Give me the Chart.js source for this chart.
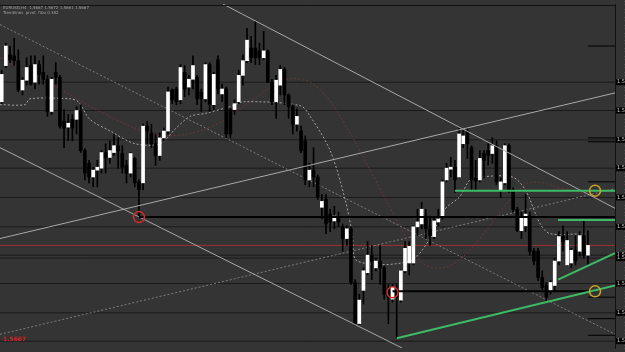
<!DOCTYPE html>
<html>
<head>
<meta charset="utf-8">
<script src="https://cdn.jsdelivr.net/npm/chart.js@4.4.1/dist/chart.umd.min.js"></script>
<style>
  html, body { margin: 0; padding: 0; background: #343434; overflow: hidden; }
</style>
</head>
<body>
<canvas id="chart" width="625" height="352"></canvas>
<script>
// prices in points (1 pt = 0.0001), one candle per bar index
const candleOpen = [15814,15851,15862,15861,15856,15826,15836,15851,15834,15852,15844,15837,15804,15844,15839,15794,15788,15796,15796,15804,
  15764,15751,15737,15744,15746,15762,15757,15762,15769,15761,15749,15741,15756,15732,15731,15789,15782,15771,15759,15777,
  15784,15826,15827,15816,15844,15829,15837,15839,15824,15817,15852,15811,15857,15822,15827,15806,15806,15814,15841,15856,
  15869,15869,15866,15859,15866,15834,15814,15831,15847,15821,15809,15791,15784,15774,15734,15744,15737,15706,15714,15699,
  15692,15696,15686,15674,15684,15629,15587,15621,15639,15657,15644,15651,15644,15622,15612,15619,15611,15641,15649,15649,
  15686,15689,15697,15684,15676,15691,15696,15734,15745,15747,15737,15771,15784,15767,15736,15734,15761,15764,15761,15769,
  15724,15731,15769,15724,15704,15682,15687,15697,15661,15661,15634,15626,15621,15626,15651,15676,15647,15649,15662,15661,
  15677,15657];
const candleHigh = [15846,15874,15871,15879,15867,15839,15859,15861,15861,15856,15861,15841,15839,15854,15841,15806,15801,15801,15809,15811,
  15766,15754,15747,15754,15764,15771,15774,15781,15777,15769,15754,15762,15757,15734,15791,15794,15791,15781,15782,15787,
  15829,15827,15829,15852,15851,15841,15861,15841,15827,15854,15854,15844,15861,15832,15829,15807,15816,15846,15862,15889,
  15881,15896,15874,15886,15867,15837,15841,15851,15849,15822,15811,15807,15789,15779,15751,15767,15739,15719,15719,15704,
  15707,15701,15689,15687,15686,15632,15617,15644,15671,15667,15654,15667,15646,15627,15627,15627,15642,15671,15671,15687,
  15704,15711,15704,15697,15696,15704,15734,15751,15757,15754,15787,15786,15787,15769,15754,15764,15764,15771,15777,15774,
  15736,15771,15771,15726,15706,15701,15719,15701,15664,15664,15641,15629,15631,15654,15681,15687,15681,15664,15677,15681,
  15692,15682];
const candleLow = [15812,15849,15854,15851,15824,15821,15831,15831,15827,15832,15832,15799,15801,15832,15787,15767,15774,15774,15781,15762,
  15734,15731,15727,15727,15741,15741,15751,15759,15746,15741,15731,15737,15727,15696,15724,15771,15767,15749,15754,15774,
  15781,15812,15811,15812,15819,15821,15827,15811,15804,15814,15804,15806,15822,15814,15777,15777,15801,15812,15831,15854,
  15854,15852,15852,15857,15834,15811,15797,15821,15811,15797,15781,15784,15762,15729,15727,15727,15714,15694,15679,15681,
  15684,15686,15661,15667,15627,15586,15586,15607,15637,15632,15641,15627,15612,15587,15609,15572,15609,15639,15637,15647,
  15677,15684,15674,15667,15674,15687,15694,15732,15737,15721,15736,15767,15756,15724,15724,15732,15736,15749,15751,15729,
  15716,15729,15721,15701,15681,15674,15681,15657,15647,15631,15622,15609,15617,15621,15647,15661,15646,15644,15647,15656,
  15654,15647];
const candleClose = [15842,15871,15857,15856,15826,15836,15849,15832,15852,15842,15837,15804,15837,15839,15789,15787,15792,15787,15805,15764,
  15741,15737,15744,15747,15762,15757,15764,15769,15764,15747,15741,15761,15731,15724,15789,15784,15771,15759,15777,15784,
  15824,15816,15814,15849,15827,15837,15851,15817,15817,15852,15811,15842,15827,15827,15781,15781,15812,15841,15856,15877,
  15859,15859,15859,15866,15834,15814,15836,15847,15821,15809,15791,15799,15764,15734,15744,15737,15717,15712,15689,15691,
  15697,15691,15674,15684,15629,15587,15611,15641,15657,15651,15651,15644,15617,15614,15624,15614,15641,15664,15666,15686,
  15691,15704,15684,15677,15692,15694,15732,15746,15747,15734,15781,15779,15771,15734,15733,15756,15754,15759,15769,15732,
  15732,15769,15724,15704,15682,15696,15699,15661,15651,15634,15624,15614,15629,15651,15676,15671,15672,15662,15651,15677,
  15657,15667];

// horizontal levels (points)
const darkLevels = [15834,15805,15775,15746,15716,15686,15657,15654,15628,15598,15569];
const redLevel = 15667;
const fibMarks = [15871,15777,15773,15732,15614,15592,15575];

// drawn objects: [x1, y1, x2, y2] in bar index / points
const grayTrends = [
  [-0.41, 15767, 96.3, 15562],
  [-0.41, 15674, 147.5, 15823],
  [53.2, 15914, 147.5, 15705]
];
const dottedTrends = [
  [-0.41, 15893, 147.5, 15576],
  [-0.41, 15576, 147.5, 15725]
];
const blackLines = [
  [33, 15696, 147.5, 15696],
  [94, 15620, 142.7, 15620]
];
const greenLines = [
  [109, 15723, 147.5, 15723],
  [133.8, 15693, 147.5, 15693],
  [95, 15572, 147.5, 15626],
  [133.8, 15632, 147.5, 15659]
];
const redMarks = [[33, 15696], [94, 15619]];
const yellowMarks = [[142.7, 15723], [142.7, 15620]];

// indicator curves
const grayMaX = [-0.4,5.6,6.8,16.4,18.4,21.2,26.1,32.1,38.1,41.7,45.3,48.9,54.9,58.5,71.8,74.2,79,82.6,84.3,85.5,98.2,103,106.6,110.2,112.6,115.1,122.8,125.9,129.5,131.9,140.3];
const grayMaY = [15811,15811,15817,15817,15814,15796,15784,15771,15771,15786,15799,15802,15809,15814,15810,15799,15764,15714,15679,15651,15651,15674,15704,15717,15734,15737,15737,15724,15689,15679,15679];
const redMaX = [-0.4,14,23.6,34,40.5,50.8,59.7,66.9,71.8,76.6,82.1,88.6,95.8,100.6,104.2,109,115,122.3,127.1,134.3,143.9];
const redMaY = [15859,15827,15804,15784,15779,15789,15814,15834,15837,15826,15794,15744,15687,15652,15644,15649,15674,15714,15731,15726,15716];

const xMin = -0.41, xMax = 147.5;
const yMin = 15562, yMax = 15914;

const idx = candleOpen.map((_, i) => i);
const bodyColors = idx.map(i => candleClose[i] >= candleOpen[i] ? "#ffffff" : "#000000");

function seg(s, color, width, dash, order) {
  return {
    type: "line",
    data: [{ x: s[0], y: s[1] }, { x: s[2], y: s[3] }],
    borderColor: color,
    borderWidth: width,
    borderDash: dash || [],
    pointRadius: 0,
    order: order
  };
}
function flat(v, x1, x2, color, width, order) {
  return seg([x1, v, x2, v], color, width, null, order);
}
function marks(list, color) {
  return {
    type: "line",
    data: list.map(p => ({ x: p[0], y: p[1] })),
    showLine: false,
    pointStyle: "circle",
    pointRadius: 5.5,
    pointBorderWidth: 1.5,
    pointBorderColor: color,
    pointBackgroundColor: "rgba(0,0,0,0)",
    order: 0
  };
}

let datasets = [];
darkLevels.forEach(v => datasets.push(flat(v, xMin, xMax, "#1b1b1b", 1, 20)));
datasets.push(flat(redLevel, xMin, xMax, "#9e3030", 1, 19));
fibMarks.forEach(v => datasets.push(flat(v, 141, xMax, "#000000", 1, 19)));
dottedTrends.forEach(s => datasets.push(seg(s, "#7c7c7c", 1, [2, 2], 18)));

datasets.push({
  type: "line",
  data: grayMaX.map((x, i) => ({ x, y: grayMaY[i] })),
  borderColor: "#a4a4a4", borderWidth: 1, borderDash: [2, 2],
  pointRadius: 0, tension: 0.3, order: 17
});
datasets.push({
  type: "line",
  data: redMaX.map((x, i) => ({ x, y: redMaY[i] })),
  borderColor: "#6a3636", borderWidth: 1, borderDash: [2, 2],
  pointRadius: 0, tension: 0.4, order: 17
});

// wicks
datasets.push({
  type: "bar",
  data: idx.map(i => ({ x: i, y: [candleLow[i], candleHigh[i]] })),
  backgroundColor: "#000000",
  barThickness: 1,
  grouped: false,
  order: 6
});
// bodies
datasets.push({
  type: "bar",
  data: idx.map(i => ({ x: i, y: [candleOpen[i], candleClose[i]] })),
  backgroundColor: bodyColors,
  barThickness: 3,
  minBarLength: 1,
  grouped: false,
  order: 5
});

grayTrends.forEach(s => datasets.push(seg(s, "#a8a8a8", 1, null, 3)));
blackLines.forEach(s => datasets.push(seg(s, "#000000", 2, null, 2)));
greenLines.forEach(s => datasets.push(seg(s, "#3dba66", 2, null, 1)));
datasets.push(marks(redMarks, "#d42a2a"));
datasets.push(marks(yellowMarks, "#c9a326"));

const decor = {
  id: "decor",
  beforeDraw(chart) {
    const c = chart.ctx;
    c.save();
    c.fillStyle = "#343434";
    c.fillRect(0, 0, chart.width, chart.height);
    c.restore();
  },
  afterDraw(chart) {
    const c = chart.ctx;
    const a = chart.chartArea;
    const ys = chart.scales.y;
    c.save();
    // frame
    c.strokeStyle = "#111111";
    c.lineWidth = 1;
    c.beginPath();
    c.moveTo(a.left, a.top + 1.5);
    c.lineTo(a.right, a.top + 1.5);
    c.moveTo(a.right + 0.5, a.top);
    c.lineTo(a.right + 0.5, a.bottom);
    c.stroke();
    // level tags on the price axis
    c.font = "5px 'DejaVu Sans'";
    c.textBaseline = "middle";
    darkLevels.forEach(v => {
      const y = ys.getPixelForValue(v);
      c.fillStyle = "#000000";
      c.fillRect(a.right + 1, y - 3, 12, 6);
      c.fillStyle = "#d0d0d0";
      c.fillText((v / 10000).toFixed(4), a.right + 2, y);
    });
    // symbol header
    c.fillStyle = "#a0a0a0";
    c.font = "4px 'DejaVu Sans'";
    c.fillText("EURUSD,H4  1.5667 1.5672 1.5661 1.5667", a.left + 3, a.top + 4);
    c.fillText("Trendlines  pivot  fibo 0.382", a.left + 3, a.top + 9);
    // bottom label
    c.fillStyle = "#e02020";
    c.font = "bold 6px 'DejaVu Sans'";
    c.fillText((redLevel / 10000).toFixed(4), a.left + 3, a.bottom - 9);
    c.restore();
  }
};

new Chart(document.getElementById("chart"), {
  type: "bar",
  data: { datasets },
  options: {
    responsive: false,
    devicePixelRatio: 1,
    animation: false,
    layout: { padding: 0, autoPadding: false },
    plugins: { legend: { display: false }, tooltip: { enabled: false } },
    scales: {
      x: { type: "linear", min: xMin, max: xMax, offset: false, display: false },
      y: {
        position: "right",
        min: yMin,
        max: yMax,
        grid: { display: false },
        border: { color: "#1b1b1b" },
        ticks: {
          stepSize: 8,
          autoSkip: false,
          includeBounds: false,
          padding: 1,
          color: "#9a9a9a",
          font: { size: 5, family: "DejaVu Sans" },
          callback: v => (v / 10000).toFixed(4)
        },
        afterFit: s => { s.width = 10; }
      }
    }
  },
  plugins: [decor]
});
</script>
</body>
</html>
